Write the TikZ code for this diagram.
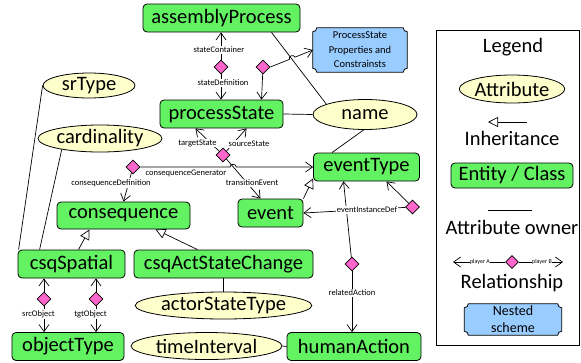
\documentclass[tikz,border=0pt]{standalone}
\usepackage{fontspec}
\setmainfont{Carlito}
\usetikzlibrary{shapes.geometric,arrows.meta,calc}
\pgfdeclarelayer{background}
\pgfsetlayers{background,main}
\definecolor{entgreen}{RGB}{98,242,98}
\definecolor{attryellow}{RGB}{255,255,204}
\definecolor{relpink}{RGB}{255,102,204}
\definecolor{nestblue}{RGB}{153,204,255}
\newcommand\plaquebg[1]{%
\begin{pgfonlayer}{background}
\draw[line width=0.8pt,fill=nestblue] ([xshift=4pt]#1.north west) -- ([xshift=-4pt]#1.north east)
  arc[start angle=180,end angle=270,radius=4pt] -- ([yshift=4pt]#1.south east)
  arc[start angle=90,end angle=180,radius=4pt] -- ([xshift=4pt]#1.south west)
  arc[start angle=0,end angle=90,radius=4pt] -- ([yshift=-4pt]#1.north west)
  arc[start angle=270,end angle=360,radius=4pt] -- cycle;
\end{pgfonlayer}}
\begin{document}
\begin{tikzpicture}[x=1pt,y=-1pt,
  entity/.style={draw,rounded corners=4pt,fill=entgreen,line width=0.8pt,minimum height=28pt,inner sep=0pt,font=\fontsize{20.5}{24}\selectfont},
  attr/.style={draw,ellipse,fill=attryellow,line width=0.8pt,inner sep=0pt,font=\fontsize{20.5}{24}\selectfont},
  rel/.style={draw,diamond,fill=relpink,line width=0.8pt,minimum width=14pt,minimum height=14pt,inner sep=0pt},
  conn/.style={line width=0.7pt,-{Straight Barb[length=7pt,width=10pt]}},
  own/.style={line width=0.7pt},
  inh/.style={line width=0.7pt,-{Triangle[open,length=10pt,width=10pt,fill=white]}},
  lbl/.style={fill=white,inner sep=1pt,font=\fontsize{8.5}{10}\selectfont},
  legtext/.style={font=\fontsize{20.5}{24}\selectfont,inner sep=0pt},
  plaquetext/.style={align=center,inner sep=0pt},
]
\useasboundingbox (0,0) rectangle (581,362);

% legend frame
\node[draw,line width=0.8pt,minimum width=143pt,minimum height=315pt,inner sep=0pt] (lg) at (507.5,187.5) {};

% entities
\node[entity,minimum width=157pt] (ap) at (221.5,18) {assemblyProcess};
\node[entity,minimum width=123pt] (ps) at (221.5,114) {processState};
\node[entity,minimum width=106pt] (et) at (366.5,167) {eventType};
\node[entity,minimum width=65pt] (ev) at (270.5,213) {event};
\node[entity,minimum width=133pt,minimum height=27pt] (cq) at (123.5,215.5) {consequence};
\node[entity,minimum width=107pt] (cs) at (71.5,264) {csqSpatial};
\node[entity,minimum width=179pt] (ca) at (223.5,264) {csqActStateChange};
\node[entity,minimum width=112pt] (ot) at (68,346.5) {objectType};
\node[entity,minimum width=134pt] (ha) at (354,346.5) {humanAction};

% attributes
\node[attr,minimum width=92pt,minimum height=25pt] (sr) at (89,85.5) {srType};
\node[attr,minimum width=124pt,minimum height=27pt] (card) at (100,138.5) {cardinality};
\node[attr,minimum width=104pt,minimum height=30pt] (nm) at (365,114.5) {name};
\node[attr,minimum width=167pt,minimum height=27pt] (ast) at (223.5,305.5) {actorStateType};
\node[attr,minimum width=151pt,minimum height=27pt] (ti) at (206.5,346) {timeInterval};

% nested scheme
\node[plaquetext,font=\fontsize{10.5}{14.5}\selectfont,minimum width=94pt,minimum height=44pt] (pp) at (360,50) {ProcessState\\Properties and\\Constrainsts};
\plaquebg{pp}

% relationship diamonds
\node[rel] (d1) at (221,67) {};
\node[rel] (d2) at (263,67) {};
\node[rel] (d3) at (223,155) {};
\node[rel] (d4) at (133,167) {};
\node[rel] (d5) at (412.5,207) {};
\node[rel] (d6) at (352,264) {};
\node[rel] (d7) at (44,299) {};
\node[rel] (d8) at (96,299) {};

% attribute owner lines
\draw[own] ([xshift=50pt]ap.south) -- (nm.165);
\draw[own] (ps.east) -- (nm.west);
\draw[own] ([xshift=-34.5pt]et.north) -- (nm.265);
\draw[own] (sr.west) -- ([xshift=1pt]cs.north west);
\draw[own] (card.196) -- ([xshift=22pt]cs.north west);
\draw[own] (ca.south) -- (ast.north);
\draw[own] (ti.east) -- (ha.west);

% inheritance
\draw[inh] ([xshift=7pt]cs.north) -- ([xshift=-34pt]cq.south);
\draw[inh] ([xshift=-26pt]ca.north) -- ([xshift=32pt]cq.south);
\draw[inh] (ev.north east) -- ([yshift=3pt]et.south west);

% relationships
\draw[conn] (d1) -- (d1 |- ap.south);
\draw[conn] (d1) -- (d1 |- ps.north);
\draw[conn] (d2) -- ([xshift=40pt]ps.north);
\draw[conn] (d2.east) -- ($(d2.east)!0.448!(pp.west)$) to[bend left=90,looseness=1.5] ($(d2.east)!0.58!(pp.west)$) -- (pp.west);
\draw[conn] (d3) -- ([xshift=-26pt]ps.south);
\draw[conn] (d3) -- ([xshift=25pt]ps.south);
\draw[conn] (d3) -- ([xshift=-10pt]ev.north);
\draw[conn] (d4) -- (cq.north);
\draw[conn] (d4.east) -- ($(d4.east)!0.519!(et.west)$) to[bend left=90,looseness=1.5] ($(d4.east)!0.555!(et.west)$) -- (et.west);
\draw[conn] (d5) -- ([xshift=20pt]et.south);
\draw[conn] (d5) -- (ev.east);
\draw[conn] (d6) -- ([xshift=-23pt]et.south);
\draw[conn] (d6) -- (d6 |- ha.north);
\draw[conn] (d7) -- (d7 |- cs.south);
\draw[conn] (d7) -- (d7 |- ot.north);
\draw[conn] (d8) -- (d8 |- cs.south);
\draw[conn] (d8) -- (d8 |- ot.north);

% relationship labels
\node[lbl] (l1) at (219,50) {stateContainer};
\node[lbl] (l2) at (223,83) {stateDefinition};
\node[lbl] (l3) at (197.5,143) {targetState};
\node[lbl] (l4) at (249,144) {sourceState};
\node[lbl] (l5) at (186,173) {consequenceGenerator};
\node[lbl] (l6) at (111,183) {consequenceDefinition};
\node[lbl] (l7) at (252,183) {transitionEvent};
\node[lbl] (l8) at (367,210) {eventInstanceDef};
\node[lbl] (l9) at (352,293) {relatedAction};
\node[lbl] (l10) at (38.5,314) {srcObject};
\node[lbl] (l11) at (90.5,314) {tgtObject};

% legend
\node[legtext] (lgt) at (513,47) {Legend};
\node[attr,minimum width=105pt,minimum height=28pt] (la) at (512,89) {Attribute};
\coordinate (ia) at (527,122);
\coordinate (ib) at (488,122);
\draw[inh] (ia) -- (ib);
\node[legtext] (lit) at (512,138) {Inheritance};
\node[entity,minimum width=122pt,minimum height=25pt] (lec) at (512,175.5) {Entity / Class};
\coordinate (oa) at (488,210);
\coordinate (ob) at (532,210);
\draw[own] (oa) -- (ob);
\node[legtext] (lot) at (512,227) {Attribute owner};
\node[rel,minimum width=13pt,minimum height=13pt] (dl) at (512,262) {};
\coordinate (pa) at (453,262);
\coordinate (pb) at (563,262);
\draw[conn] (dl) -- (pa);
\draw[conn] (dl) -- (pb);
\node[lbl,font=\fontsize{6}{7}\selectfont,inner sep=0.5pt] (pla) at (480,262) {player A};
\node[lbl,font=\fontsize{6}{7}\selectfont,inner sep=0.5pt] (plb) at (542,262) {player B};
\node[legtext] (lrt) at (512,283) {Relationship};
\node[plaquetext,font=\fontsize{14}{17}\selectfont,minimum width=97pt,minimum height=31pt] (lns) at (513,319.5) {Nested\\scheme};
\plaquebg{lns}
\end{tikzpicture}
\end{document}
